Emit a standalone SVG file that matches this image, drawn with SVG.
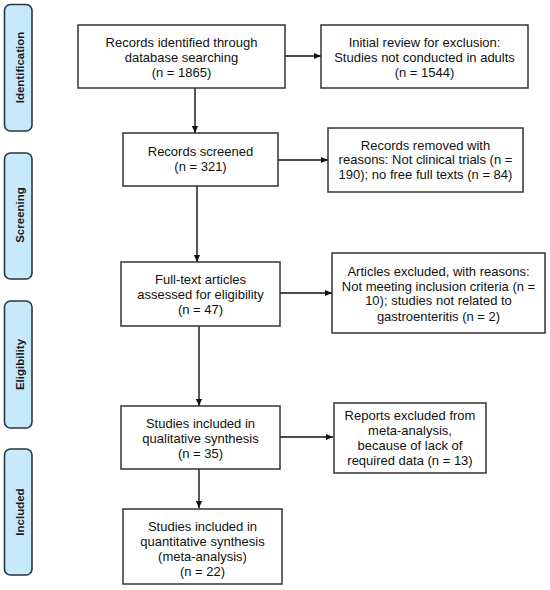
<svg xmlns="http://www.w3.org/2000/svg" width="550" height="590" viewBox="0 0 550 590">
<defs>
<style>
.tab{fill:#c6e9fb;stroke:#2a3640;stroke-width:1.6}
.tabt{font-family:"Liberation Sans",Arial,sans-serif;font-weight:bold;font-size:11.5px;fill:#1a1a1a;text-anchor:middle}
.box{fill:#ffffff;stroke:#333333;stroke-width:1.5}
.t{font-family:"Liberation Sans",Arial,sans-serif;font-size:13px;fill:#111111;text-anchor:middle}
.c{stroke:#111111;stroke-width:1.4;fill:none;marker-end:url(#ah)}
</style>
<marker id="ah" viewBox="0 0 8 8" refX="8" refY="4" markerWidth="7" markerHeight="7" markerUnits="userSpaceOnUse" orient="auto">
<path d="M0,0.5 L8,4 L0,7.5 Z" fill="#111111"/>
</marker>
</defs>
<rect width="550" height="590" fill="#ffffff"/>
<g id="tab-identification">
<rect class="tab" x="4.5" y="4.5" width="27.5" height="126.5" rx="6"/>
<text class="tabt" transform="translate(23.5,67.5) rotate(-90)">Identification</text>
</g>
<g id="tab-screening">
<rect class="tab" x="4.5" y="153" width="27.5" height="126" rx="6"/>
<text class="tabt" transform="translate(23.5,215) rotate(-90)">Screening</text>
</g>
<g id="tab-eligibility">
<rect class="tab" x="4.5" y="301" width="27.5" height="127" rx="6"/>
<text class="tabt" transform="translate(23.5,364.5) rotate(-90)">Eligibility</text>
</g>
<g id="tab-included">
<rect class="tab" x="4.5" y="449" width="27.5" height="126" rx="6"/>
<text class="tabt" transform="translate(23.5,512) rotate(-90)">Included</text>
</g>
<g id="connectors">
<line class="c" x1="285" y1="56" x2="321" y2="56"/>
<line class="c" x1="195" y1="88" x2="195" y2="133"/>
<line class="c" x1="278" y1="160" x2="328" y2="160"/>
<line class="c" x1="197" y1="186" x2="197" y2="262"/>
<line class="c" x1="280" y1="293" x2="332" y2="293"/>
<line class="c" x1="199" y1="326" x2="199" y2="406"/>
<line class="c" x1="280" y1="437" x2="333" y2="437"/>
<line class="c" x1="199" y1="469" x2="199" y2="508"/>
</g>
<g id="n1">
<rect class="box" x="78" y="25" width="207" height="63"/>
<text class="t" x="181.5" y="46.5">Records identified through</text>
<text class="t" x="181.5" y="61.5">database searching</text>
<text class="t" x="181.5" y="77">(n = 1865)</text>
</g>
<g id="n2">
<rect class="box" x="321" y="25" width="207" height="63"/>
<text class="t" x="424.5" y="46.5">Initial review for exclusion:</text>
<text class="t" x="424.5" y="61.5">Studies not conducted in adults</text>
<text class="t" x="424.5" y="77">(n = 1544)</text>
</g>
<g id="n3">
<rect class="box" x="123" y="133" width="155" height="53"/>
<text class="t" x="200.5" y="155.5">Records screened</text>
<text class="t" x="200.5" y="170.5">(n = 321)</text>
</g>
<g id="n4">
<rect class="box" x="328" y="128" width="195" height="64"/>
<text class="t" x="425.5" y="149.5">Records removed with</text>
<text class="t" x="425.5" y="164">reasons: Not clinical trials (n =</text>
<text class="t" x="425.5" y="179">190); no free full texts (n = 84)</text>
</g>
<g id="n5">
<rect class="box" x="121" y="262" width="159" height="64"/>
<text class="t" x="200.5" y="283.5">Full-text articles</text>
<text class="t" x="200.5" y="298.5">assessed for eligibility</text>
<text class="t" x="200.5" y="313.5">(n = 47)</text>
</g>
<g id="n6">
<rect class="box" x="332" y="253" width="213" height="80"/>
<text class="t" x="438.5" y="275.5">Articles excluded, with reasons:</text>
<text class="t" x="438.5" y="290.5">Not meeting inclusion criteria (n =</text>
<text class="t" x="438.5" y="305">10); studies not related to</text>
<text class="t" x="438.5" y="320.5">gastroenteritis (n = 2)</text>
</g>
<g id="n7">
<rect class="box" x="121" y="406" width="159" height="63"/>
<text class="t" x="200.5" y="427.5">Studies included in</text>
<text class="t" x="200.5" y="442.5">qualitative synthesis</text>
<text class="t" x="200.5" y="457.5">(n = 35)</text>
</g>
<g id="n8">
<rect class="box" x="334" y="403" width="152" height="70"/>
<text class="t" x="410" y="419.5">Reports excluded from</text>
<text class="t" x="410" y="434.5">meta-analysis,</text>
<text class="t" x="410" y="449.5">because of lack of</text>
<text class="t" x="410" y="464.5">required data (n = 13)</text>
</g>
<g id="n9">
<rect class="box" x="123" y="509" width="159" height="75"/>
<text class="t" x="202.5" y="530.5">Studies included in</text>
<text class="t" x="202.5" y="545.5">quantitative synthesis</text>
<text class="t" x="202.5" y="560.5">(meta-analysis)</text>
<text class="t" x="202.5" y="575.5">(n = 22)</text>
</g>
</svg>
